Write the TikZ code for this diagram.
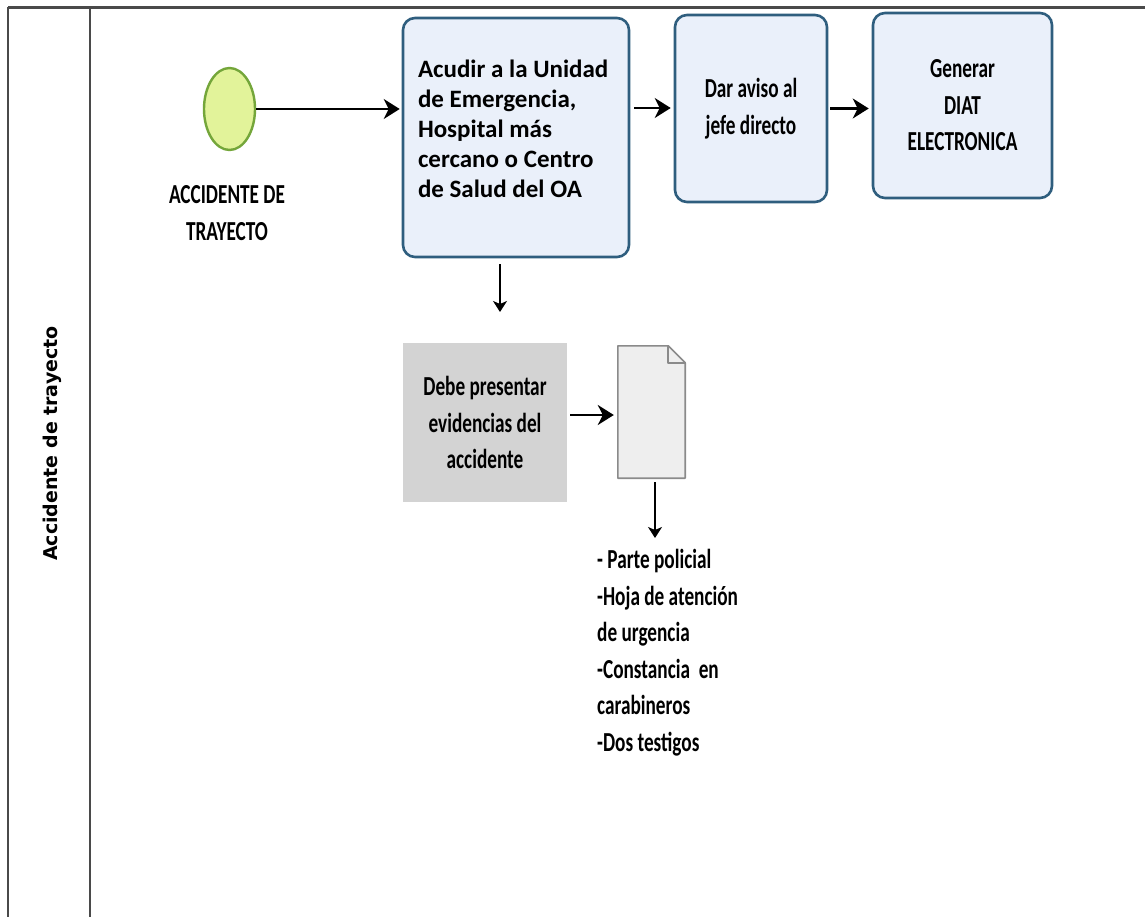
\documentclass[tikz,border=0pt]{standalone}
\usepackage{fontspec}
\usetikzlibrary{arrows.meta,shapes.geometric}
\newfontfamily\bodyf{Carlito}
\newfontfamily\condf[FakeStretch=0.7]{Carlito}
\newfontfamily\lanef{DejaVu Sans}
\definecolor{taskfill}{HTML}{EAF0FA}
\definecolor{taskline}{HTML}{2F5E7E}
\definecolor{startfill}{HTML}{E2F39A}
\definecolor{startline}{HTML}{74A63A}
\definecolor{grayfill}{HTML}{D3D3D3}
\definecolor{docfill}{HTML}{EEEEEE}
\definecolor{docline}{HTML}{8A8A8A}
\definecolor{frameline}{HTML}{4A4A4A}
\tikzset{
  frame/.style={draw=frameline, line width=2pt},
  task/.style={draw=taskline, fill=taskfill, line width=2.6pt, rounded corners=12pt, inner sep=0pt},
  flow/.style={draw=black, line width=2.4pt, -{Stealth[length=16pt,width=20pt,inset=5pt]}},
  thinflow/.style={draw=black, line width=1.6pt, -{Stealth[length=11pt,width=14pt,inset=3pt]}},
  condtxt/.style={font=\condf\bfseries\fontsize{27.5}{36.5}\selectfont, text=black},
}
\begin{document}
\begin{tikzpicture}[x=1pt,y=-1pt]
\useasboundingbox (0,0) rectangle (1145,917);
\fill[white] (0,0) rectangle (1145,917);
% pool frame
\coordinate (fbl) at (8,917);
\coordinate (ftl) at (8,7.5);
\coordinate (ftr) at (1145,7.5);
\coordinate (ltop) at (90,7.5);
\coordinate (lbot) at (90,917);
\draw[frame] (fbl) -- (ftl);
\draw[frame, line width=2.8pt] (ftl) -- (ftr);
\draw[frame] (ltop) -- (lbot);
\node[rotate=90, anchor=base, font=\lanef\bfseries\fontsize{19}{22}\selectfont] (lane) at (57,443.5) {Accidente de trayecto};

% start event
\node[ellipse, draw=startline, fill=startfill, line width=2.4pt, minimum width=51pt, minimum height=82pt, inner sep=0pt] (start) at (229.5,109) {};
\node[condtxt, align=center, anchor=north] (startlbl) at (227,182) {ACCIDENTE DE\\TRAYECTO};

% tasks
\node[task, minimum width=226pt, minimum height=239pt, text width=196pt, align=flush left,
      font=\bodyf\bfseries\fontsize{25}{30}\selectfont] (t1) at (516,137.5)
  {Acudir a la Unidad\\de Emergencia,\\Hospital más\\cercano o Centro\\de Salud del OA\\[-12pt]\mbox{}};
\node[task, minimum width=152pt, minimum height=187pt, align=center, condtxt] (t2) at (751,108.5)
  {Dar aviso al\\jefe directo};
\node[task, minimum width=179pt, minimum height=185pt, align=center, condtxt] (t3) at (962.5,105.5)
  {Generar\\DIAT\\ELECTRONICA};

% evidence box
\node[fill=grayfill, minimum width=164pt, minimum height=159pt, align=center, condtxt] (ev) at (485,422.5)
  {Debe presentar\\evidencias del\\accidente};

% document
\node[minimum width=67pt, minimum height=132pt, inner sep=0pt] (doc) at (651.5,412) {};
\draw[draw=docline, fill=docfill, line width=1.6pt, line join=round]
  (doc.north west) -- ([xshift=-17pt]doc.north east) -- ([yshift=-17pt]doc.north east)
  -- (doc.south east) -- (doc.south west) -- cycle;
\draw[draw=docline, line width=1.6pt, line join=round]
  ([xshift=-17pt]doc.north east) -- ([xshift=-17pt,yshift=-17pt]doc.north east) -- ([yshift=-17pt]doc.north east);

% list
\node[condtxt, align=left, anchor=north west, inner sep=0pt] (list) at (597,549)
  {- Parte policial\\-Hoja de atención\\de urgencia\\-Constancia~ en\\carabineros\\-Dos testigos};

% connectors
\coordinate (downtip) at (500,312);
\coordinate (listtop) at (655,538);
\draw[flow] (start.east) -- ([xshift=-2pt]t1.west |- start.east);
\draw[flow] ([xshift=4pt,yshift=29.5pt]t1.east) -- ([xshift=-3pt,yshift=29.5pt]t1.east -| t2.west);
\draw[flow] ([xshift=2pt]t2.east) -- ([xshift=-3pt]t2.east -| t3.west);
\draw[thinflow] (t1.south -| downtip) ++(0,6) -- (downtip);
\draw[flow] ([xshift=3pt,yshift=7.5pt]ev.east) -- ([xshift=-4pt,yshift=7.5pt]ev.east -| doc.west);
\draw[thinflow] ([yshift=-4pt]doc.south -| listtop) -- (listtop);
\end{tikzpicture}
\end{document}
